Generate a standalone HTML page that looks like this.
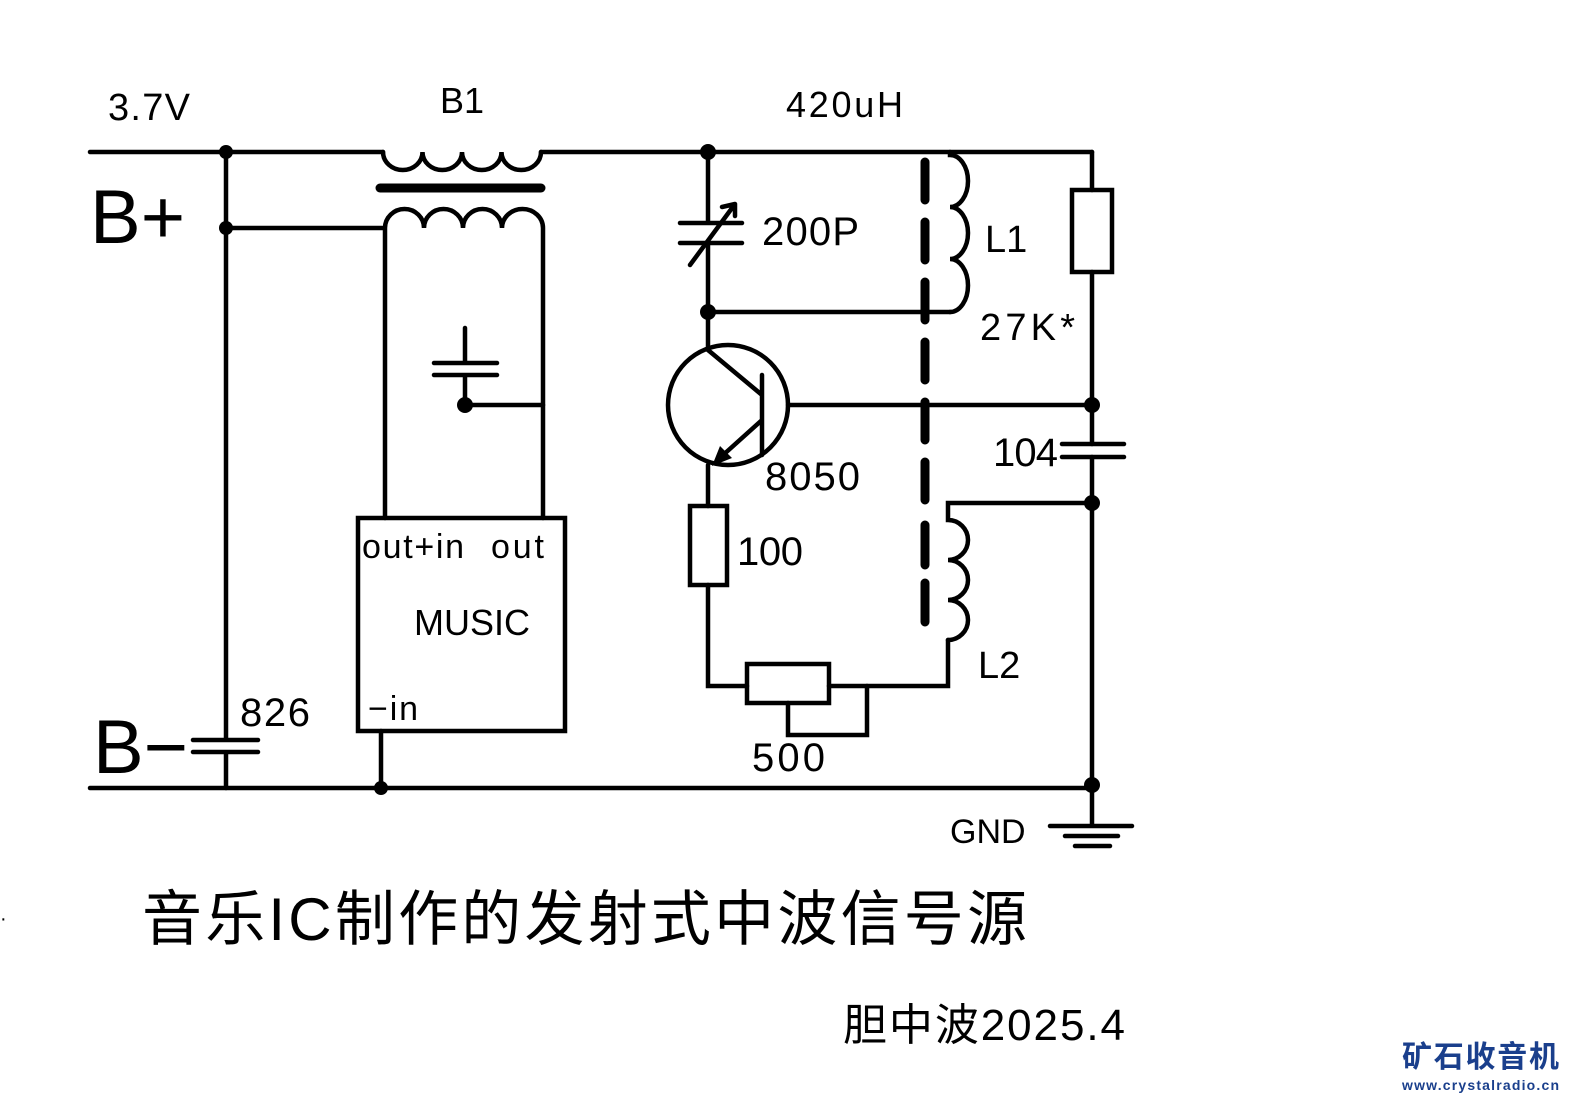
<!DOCTYPE html>
<html><head><meta charset="utf-8"><style>
html,body{margin:0;padding:0;background:#fff;}
svg{display:block;}
text{font-family:"Liberation Sans","Noto Sans CJK SC",sans-serif;fill:#000;}
</style></head><body>
<svg width="1575" height="1102" viewBox="0 0 1575 1102" xmlns="http://www.w3.org/2000/svg">
<g stroke="#000" stroke-width="4.5" fill="none" stroke-linecap="round">
<path d="M90,152 H383 M541,152 H1092"/>
<path d="M383,152 a19.75,18 0 0 0 39.5,0 a19.75,18 0 0 0 39.5,0 a19.75,18 0 0 0 39.5,0 a19.75,18 0 0 0 39.5,0"/>
<line x1="380" y1="188" x2="541" y2="188" stroke-width="9"/>
<path d="M226,228 H385 M385,518 V228 a19.5,19 0 0 1 39,0 a19.5,19 0 0 1 39,0 a19.5,19 0 0 1 39,0 a20.5,19 0 0 1 41,0 V518"/>
<path d="M226,152 V740 M226,752 V788 M193,740 H258 M193,752 H258"/>
<path d="M90,788 H1092"/>
<rect x="358" y="518" width="207" height="213"/>
<path d="M381,731 V788"/>
<path d="M465,328 V363 M465,375 V405 H543 M434,363 H497 M434,375 H497"/>
<path d="M708,152 V223 M708,243 V350 M680,223 H742 M680,243 H742"/>
<path d="M690,265 L735,204 M735,204 L722,207 M735,204 L735,216"/>
<path d="M708,312 H950"/>
<circle cx="728" cy="405" r="60"/>
<path d="M708,350 L762,395 M762,375 V455 M762,420 L722,456 M788,405 H1092"/>
<path d="M708,465 V506 M708,585 V686 H747 M829,686 H948 V640"/>
<rect x="690" y="506" width="37" height="79"/>
<rect x="747" y="664" width="82" height="39"/>
<path d="M788,703 V735 H867 V686"/>
<path d="M950,152 V155 a18,26 0 0 1 0,52 a18,26 0 0 1 0,52 a18,26.5 0 0 1 0,53"/>
<path d="M1092,503 H948 V520 a20,20 0 0 1 0,40 a20,20 0 0 1 0,40 a20,20 0 0 1 0,40"/>
<path d="M1092,152 V190 M1092,272 V444 M1092,457 V825"/>
<rect x="1072" y="190" width="40" height="82"/>
<path d="M1062,444 H1124 M1062,457 H1124"/>
<path d="M1050,826 H1132 M1065,836 H1118 M1075,846 H1110"/>
<path d="M925,162 V200 M925,222 V260 M925,282 V320 M925,342 V380 M925,402 V440 M925,462 V500 M925,525 V565 M925,583 V622" stroke-width="9"/>
</g>
<g fill="#000">
<circle cx="226" cy="152" r="7"/><circle cx="226" cy="228" r="7"/>
<circle cx="381" cy="788" r="7"/><circle cx="465" cy="405" r="8"/>
<circle cx="708" cy="152" r="8"/><circle cx="708" cy="312" r="8"/>
<circle cx="1092" cy="405" r="8"/><circle cx="1092" cy="503" r="8"/><circle cx="1092" cy="785" r="8"/>
<polygon points="712,466 720,446 732,458"/>
</g>
<text x="108" y="120" font-size="38" textLength="82">3.7V</text>
<text x="440" y="113" font-size="36">B1</text>
<text x="786" y="117" font-size="36" textLength="117">420uH</text>
<text x="90" y="243" font-size="76">B+</text>
<text x="93" y="773" font-size="76">B−</text>
<text x="762" y="245" font-size="40" textLength="97">200P</text>
<text x="985" y="252" font-size="38">L1</text>
<text x="980" y="340" font-size="38" textLength="95">27K*</text>
<text x="993" y="466" font-size="40" textLength="65">104</text>
<text x="765" y="490" font-size="40" textLength="95">8050</text>
<text x="737" y="565" font-size="40" textLength="66">100</text>
<text x="978" y="678" font-size="38">L2</text>
<text x="752" y="771" font-size="40" textLength="73">500</text>
<text x="240" y="726" font-size="40" textLength="70">826</text>
<text x="950" y="843" font-size="34">GND</text>
<text x="362" y="558" font-size="34" textLength="102">out+in</text>
<text x="491" y="558" font-size="34" textLength="53">out</text>
<text x="414" y="635" font-size="36">MUSIC</text>
<text x="368" y="720" font-size="34" textLength="50">−in</text>
<text x="0" y="925" font-size="20">·</text>
<text x="142" y="940" font-size="60" textLength="885">音乐IC制作的发射式中波信号源</text>
<text x="843" y="1040" font-size="44" textLength="282">胆中波2025.4</text>
<text x="1402" y="1067" font-size="30" font-weight="bold" style="fill:#1a3f8c" textLength="157">矿石收音机</text>
<text x="1402" y="1090" font-size="14" font-weight="bold" style="fill:#1a3f8c" textLength="157">www.crystalradio.cn</text>
</svg>
</body></html>
